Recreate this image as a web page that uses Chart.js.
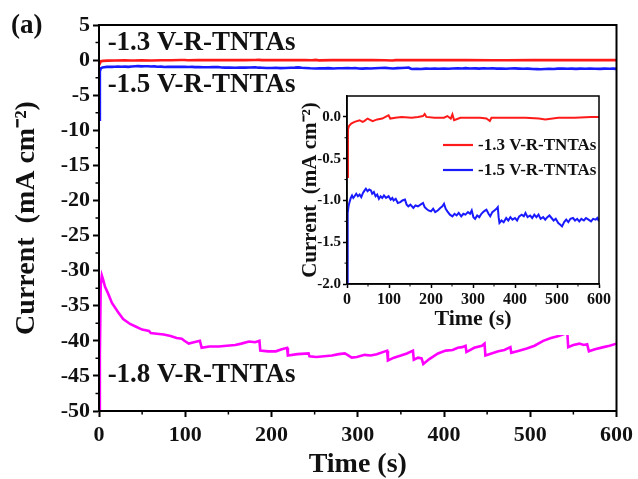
<!DOCTYPE html>
<html>
<head>
<meta charset="utf-8">
<script src="https://cdn.jsdelivr.net/npm/chart.js@4.4.1/dist/chart.umd.min.js"></script>
<style>
  html, body { margin:0; padding:0; background:#fff; }
  #wrap { position:relative; width:638px; height:479px; }
  #mainChart { position:absolute; left:0; top:0; }
  #insetChart { position:absolute; left:295px; top:85px; }
</style>
</head>
<body>
<div id="wrap">
  <canvas id="mainChart" width="638" height="479"></canvas>
  <canvas id="insetChart" width="318" height="250"></canvas>
</div>
<script>
/* ── DATA ── */
const seriesLabels = ['-1.3 V-R-TNTAs', '-1.5 V-R-TNTAs', '-1.8 V-R-TNTAs'];
const seriesColors = ['#ff1a1a', '#1a1aff', '#ff00ff'];

// -1.3 V : time (s) / current (mA cm-2)
const redT = [0,2.3,4.7,10,18,30,37,41,49,61,72,84,95,99,103,115,130,154,169,181,185,189,208,231,239,247,251,255,270,293,317,332,340,344,363,394,425,457,472,503,542,581,600];
const redI = [-0.72,-0.15,-0.11,-0.08,-0.06,-0.04,-0.06,-0.05,-0.02,-0.05,-0.03,-0.02,0.01,0.02,-0.02,-0.01,0,-0.01,0,0.01,0.035,0,-0.01,-0.01,0.01,-0.02,0.03,-0.04,-0.01,-0.01,-0.01,-0.02,-0.05,-0.01,-0.01,-0.01,-0.01,-0.02,-0.03,-0.01,-0.01,0,0];

// -1.5 V
const blueT = [0,1,2.3,4,6,9,12,15,18,22,26,30,34,38,42,45,49,53,57,60,64,68,72,76,80,84,88,93,99,104,108,111,116,121,127,132,138,142,146,151,158,163,169,175,181,185,189,194,200,205,210,216,222,227,231,235,239,245,251,256,261,266,272,277,282,288,293,297,301,305,310,315,320,326,332,337,341,346,351,356,359,361,363,368,373,379,384,389,394,400,405,410,416,421,425,430,436,441,446,451,456,461,467,472,477,482,487,492,497,503,508,512,517,522,527,532,538,543,548,553,558,564,569,575,581,586,592,596,600];
const blueI = [-8.5,-1.6,-1.15,-1.06,-1.02,-0.97,-0.94,-0.97,-0.95,-0.92,-0.95,-0.93,-0.96,-0.91,-0.88,-0.86,-0.89,-0.87,-0.88,-0.92,-0.90,-0.95,-0.93,-0.98,-0.95,-0.97,-0.94,-0.97,-0.95,-0.99,-0.97,-1.00,-0.98,-1.03,-1.02,-1.00,-0.99,-1.05,-1.07,-1.05,-1.09,-1.06,-1.07,-1.05,-1.03,-1.08,-1.10,-1.12,-1.13,-1.10,-1.14,-1.12,-1.09,-1.07,-1.04,-1.10,-1.13,-1.17,-1.19,-1.16,-1.18,-1.15,-1.19,-1.16,-1.17,-1.14,-1.16,-1.12,-1.20,-1.22,-1.18,-1.20,-1.16,-1.13,-1.11,-1.16,-1.19,-1.14,-1.12,-1.10,-1.08,-1.20,-1.27,-1.24,-1.26,-1.21,-1.24,-1.20,-1.23,-1.21,-1.24,-1.19,-1.17,-1.19,-1.15,-1.20,-1.18,-1.21,-1.17,-1.20,-1.17,-1.22,-1.20,-1.23,-1.20,-1.18,-1.21,-1.24,-1.22,-1.27,-1.29,-1.31,-1.26,-1.23,-1.26,-1.22,-1.21,-1.24,-1.22,-1.25,-1.22,-1.24,-1.21,-1.23,-1.25,-1.22,-1.23,-1.21,-1.25];

// -1.8 V
const magT = [0,1,2,3.3,5,7,10,15,22,28,36,43,50,58,60,67,75,83,90,96,99,104,110,117,119,128,139,148,158,165,174,181,186,187,196,205,212,218,219,230,243,244,252,261,270,278,285,288,293,299,308,315,322,334,335,342,350,357,364,365,370,374,376,383,393,402,410,416,421,425,426,435,444,447,448,455,463,470,477,478,487,496,505,515,524,533,540,543,544,550,557,562,566,568,575,585,592,600];
const magI = [-50,-42,-32,-30.7,-31.4,-32.3,-33.1,-34.6,-35.9,-36.9,-37.6,-38.0,-38.4,-38.6,-38.9,-39.0,-39.1,-39.3,-39.6,-39.7,-40.0,-40.4,-40.2,-40.0,-41.0,-40.8,-40.8,-40.7,-40.6,-40.4,-40.1,-40.2,-40.0,-41.4,-41.5,-41.5,-41.2,-41.0,-42.1,-41.9,-41.8,-42.2,-42.3,-42.2,-42.1,-41.9,-41.8,-42.0,-42.4,-42.3,-42.0,-42.1,-41.9,-41.4,-42.8,-42.4,-42.1,-41.8,-41.4,-42.7,-42.4,-42.5,-43.3,-42.6,-41.8,-41.4,-41.3,-41.0,-40.9,-40.7,-41.6,-41.0,-40.7,-40.4,-42.1,-41.8,-41.5,-41.3,-40.9,-41.7,-41.4,-41.1,-40.7,-40.0,-39.6,-39.3,-39.0,-38.9,-40.9,-40.6,-40.4,-40.6,-40.5,-41.5,-41.2,-40.9,-40.7,-40.4];

const SERIF = "'Liberation Serif', 'Times New Roman', serif";
const pts = (t, v) => t.map((x, i) => ({ x, y: v[i] }));

/* ── PLUGINS ── */
// short minor ticks halfway between labelled ones, plus the closed frame
const framePlugin = {
  id: 'frame',
  afterDraw(chart, args, opts) {
    const { ctx, chartArea: a } = chart;
    ctx.save();
    ctx.strokeStyle = '#000';
    ctx.lineWidth = opts.width;
    ctx.strokeRect(a.left, a.top, a.right - a.left, a.bottom - a.top);
    ctx.lineWidth = opts.minorWidth;
    const xs = chart.scales.x, ys = chart.scales.y;
    ctx.beginPath();
    for (let v = xs.min + opts.xMinor; v < xs.max; v += opts.xMinor * 2) {
      const px = xs.getPixelForValue(v);
      ctx.moveTo(px, a.bottom); ctx.lineTo(px, a.bottom + opts.minorLen);
    }
    for (let v = ys.min + opts.yMinor; v < ys.max; v += opts.yMinor * 2) {
      const py = ys.getPixelForValue(v);
      ctx.moveTo(a.left, py); ctx.lineTo(a.left - opts.minorLen, py);
    }
    ctx.stroke();
    ctx.restore();
  }
};

const whiteBg = {
  id: 'whiteBg',
  beforeDraw(chart) {
    const { ctx, width, height } = chart;
    ctx.save(); ctx.fillStyle = '#fff'; ctx.fillRect(0, 0, width, height); ctx.restore();
  }
};

// series names written next to the curves + panel letter
const mainText = {
  id: 'mainText',
  afterDraw(chart) {
    const { ctx } = chart;
    const xs = chart.scales.x, ys = chart.scales.y;
    const spots = [[10, 1.44], [10, -4.55], [10, -45.9]];
    ctx.save();
    ctx.fillStyle = '#111';
    ctx.textBaseline = 'alphabetic';
    ctx.font = `bold 27px ${SERIF}`;
    seriesLabels.forEach((s, i) => {
      ctx.fillText(s, xs.getPixelForValue(spots[i][0]), ys.getPixelForValue(spots[i][1]));
    });
    ctx.font = `bold 27px ${SERIF}`;
    ctx.fillText('(a)', 11, 33);
    ctx.restore();
  }
};

const insetLegend = {
  id: 'insetLegend',
  afterDraw(chart) {
    const { ctx, chartArea: a } = chart;
    ctx.save();
    ctx.font = `bold 17px ${SERIF}`;
    ctx.textBaseline = 'middle';
    ctx.fillStyle = '#111';
    chart.data.datasets.forEach((ds, i) => {
      const y = a.top + 49 + i * 25;
      ctx.strokeStyle = ds.borderColor; ctx.lineWidth = 2.2;
      ctx.beginPath(); ctx.moveTo(a.left + 96, y); ctx.lineTo(a.left + 126, y); ctx.stroke();
      ctx.fillText(ds.label, a.left + 131, y + 1);
    });
    ctx.restore();
  }
};

function axis(o) {
  return {
    type: 'linear', min: o.min, max: o.max,
    afterFit: s => { if (o.w) s.width = o.w; if (o.h) s.height = o.h; },
    afterBuildTicks: s => { s.ticks = s.ticks.filter(t => t.value <= o.top); },
    ticks: { stepSize: o.step, color: '#111', padding: o.pad,
             font: { family: SERIF, size: o.fs, weight: 'bold' },
             callback: o.fmt || (v => v) },
    grid: { drawOnChartArea: false, color: '#000', tickLength: o.tl, tickWidth: o.tw },
    border: { color: '#000', width: o.bw },
    title: { display: true, text: o.title, color: '#111', padding: o.tpad,
             font: { family: SERIF, size: o.tfs, weight: 'bold' } }
  };
}

/* ── MAIN ── */
new Chart(document.getElementById('mainChart'), {
  type: 'line',
  data: {
    datasets: [
      { label: seriesLabels[0], data: pts(redT, redI), borderColor: seriesColors[0], borderWidth: 2.6 },
      { label: seriesLabels[1], data: pts(blueT, blueI), borderColor: seriesColors[1], borderWidth: 2.6 },
      { label: seriesLabels[2], data: pts(magT, magI), borderColor: seriesColors[2], borderWidth: 2.6 }
    ]
  },
  options: {
    responsive: false, animation: false,
    elements: { point: { radius: 0 }, line: { tension: 0 } },
    layout: { padding: { left: 0, top: 25, right: 18, bottom: 0 } },
    plugins: { legend: { display: false }, tooltip: { enabled: false },
      frame: { width: 2, minorWidth: 1.5, minorLen: 3.5, xMinor: 50, yMinor: 2.5 } },
    scales: {
      x: axis({ min: 0, max: 600, top: 600, step: 100, fs: 22, pad: 5, tl: 6, tw: 2, bw: 2, h: 68,
                title: 'Time (s)', tfs: 28, tpad: { top: 0, bottom: -3 } }),
      y: axis({ min: -50, max: 5, top: 5, step: 5, fs: 22, pad: 3, tl: 6, tw: 2, bw: 2, w: 99,
                title: 'Current  (mA cm\u207B\u00B2)', tfs: 28, tpad: { top: 10, bottom: 0 } })
    }
  },
  plugins: [framePlugin, mainText]
});

/* ── INSET ── */
new Chart(document.getElementById('insetChart'), {
  type: 'line',
  data: {
    datasets: [
      { label: seriesLabels[0], data: pts(redT, redI), borderColor: seriesColors[0], borderWidth: 2 },
      { label: seriesLabels[1], data: pts(blueT, blueI), borderColor: seriesColors[1], borderWidth: 2 }
    ]
  },
  options: {
    responsive: false, animation: false,
    elements: { point: { radius: 0 }, line: { tension: 0 } },
    layout: { padding: { left: 0, top: 8, right: 8, bottom: 0 } },
    plugins: { legend: { display: false }, tooltip: { enabled: false },
      frame: { width: 1.5, minorWidth: 1, minorLen: 2.5, xMinor: 50, yMinor: 0.25 } },
    scales: {
      x: axis({ min: 0, max: 600, top: 600, step: 100, fs: 16, pad: 2, tl: 4, tw: 1.5, bw: 1.5, h: 51,
                title: 'Time (s)', tfs: 22, tpad: { top: 0, bottom: 2 } }),
      y: axis({ min: -2, max: 0.25, top: 0, step: 0.5, fs: 15, pad: 2, tl: 4, tw: 1.5, bw: 1.5, w: 52,
                fmt: v => v.toFixed(1),
                title: 'Current  (mA cm\u207B\u00B2)', tfs: 21, tpad: { top: 3, bottom: 0 } })
    }
  },
  plugins: [whiteBg, framePlugin, insetLegend]
});
</script>
</body>
</html>
